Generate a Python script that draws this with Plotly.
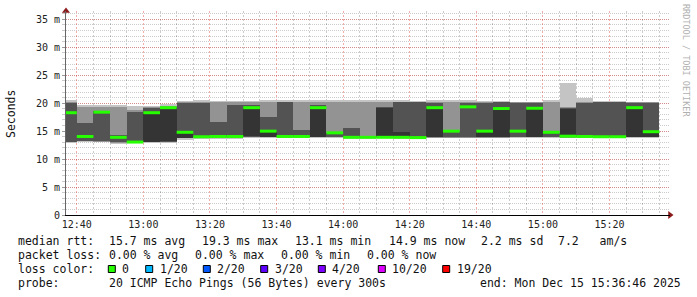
import plotly.graph_objects as go
import pandas as pd

# ---------------- data ----------------
bin_start = "2025-12-15 12:35:00"   # start of first 5-minute bin
bin_minutes = 5
range_start = "2025-12-15 12:36:46"
range_end = "2025-12-15 15:38:10"

median = [18.3, 14.05, 18.4, 13.9, 13.05, 18.3, 19.2, 14.8, 14.0, 14.05,
          14.05, 19.2, 15.0, 14.05, 14.05, 19.2, 14.7, 13.9, 13.9, 13.9,
          13.9, 13.85, 19.2, 15.0, 19.35, 15.0, 19.05, 15.0, 19.1, 14.8,
          14.1, 14.05, 14.0, 14.0, 19.2, 14.9]

ping_min = [12.9, 13.0, 13.0, 12.7, 12.8, 12.8, 12.9, 13.5, 13.6, 13.6,
            13.6, 13.8, 13.7, 13.8, 13.8, 13.8, 13.7, 13.6, 13.6, 13.7,
            13.6, 13.6, 13.7, 13.7, 13.7, 13.7, 13.7, 13.8, 13.8, 13.8,
            13.7, 13.8, 13.8, 13.8, 13.8, 13.8]
ping_max = [20.5, 19.6, 19.6, 19.6, 19.5, 19.5, 19.8, 20.4, 20.5, 20.4,
            20.4, 20.4, 20.5, 20.5, 20.5, 20.5, 20.5, 20.5, 20.5, 20.5,
            20.5, 20.4, 20.5, 20.5, 20.5, 20.4, 20.4, 20.3, 20.3, 20.5,
            23.6, 21.0, 20.4, 20.4, 20.3, 20.3]

mid_lo = [13.1, 13.2, 13.1, 12.9, 12.9, 13.0, 13.0, 13.7, 13.8, 13.8,
          13.8, 14.0, 13.9, 13.9, 13.9, 13.9, 13.9, 13.8, 13.7, 13.8,
          13.8, 13.7, 13.8, 13.8, 13.8, 13.8, 13.8, 13.9, 13.9, 13.9,
          13.8, 13.9, 13.9, 13.9, 13.9, 13.9]
mid_hi = [20.2, 19.3, 19.4, 19.4, 18.7, 19.3, 19.5, 20.2, 20.3, 20.2,
          20.3, 20.3, 20.3, 20.3, 20.3, 20.3, 20.3, 20.3, 20.3, 20.3,
          20.3, 20.3, 20.3, 20.3, 20.3, 20.2, 20.3, 20.2, 20.2, 20.3,
          19.3, 20.3, 20.3, 20.3, 20.2, 20.2]

core_lo = [13.1, 13.3, 13.2, 13.1, 13.0, 13.0, 13.1, 13.8, 13.9, 13.9,
           13.9, 14.0, 14.0, 14.0, 14.0, 14.0, 14.0, 13.9, 13.8, 13.9,
           13.9, 13.8, 13.9, 13.9, 13.9, 13.9, 13.9, 14.0, 14.0, 14.0,
           13.9, 14.0, 14.0, 14.0, 14.0, 14.0]
core_hi = [20.1, 16.5, 18.6, 14.3, 18.5, 19.1, 19.3, 20.0, 20.1, 16.7,
           19.6, 19.6, 17.6, 20.2, 15.2, 19.6, 14.6, 15.5, 14.0, 19.3,
           20.2, 20.2, 20.1, 15.1, 20.0, 20.1, 20.2, 20.1, 20.0, 14.6,
           19.2, 20.1, 20.2, 20.2, 20.0, 20.1]

inner_lo = [None, None, None, None, None, 13.1, 13.2, 13.8, None, None,
            None, 14.1, 14.0, None, None, 14.0, None, None, None, 14.0,
            13.9, None, 14.0, None, None, 14.0, 14.0, None, 14.0, None,
            14.0, None, None, None, 14.0, 14.0]
inner_hi = [None, None, None, None, None, 18.3, 19.1, 14.6, None, None,
            None, 19.1, 14.9, None, None, 19.1, None, None, None, 19.2,
            14.9, None, 19.2, None, None, 15.0, 19.0, None, 19.0, None,
            19.0, None, None, None, 19.2, 15.0]

y_tick_vals = [0, 5, 10, 15, 20, 25, 30, 35]
y_tick_text = ["0", "5 m", "10 m", "15 m", "20 m", "25 m", "30 m", "35 m"]

legend_rtt = [("median rtt:", 16), ("15.7 ms avg", 107), ("19.3 ms max", 200),
              ("13.1 ms min", 292.5), ("14.9 ms now", 386.5), ("2.2 ms sd", 479),
              ("7.2   am/s", 556)]
legend_loss = [("packet loss:", 16), ("0.00 % avg", 107), ("0.00 % max", 193.3),
               ("0.00 % min", 279.3), ("0.00 % now", 365)]
loss_labels = ["0", "1/20", "2/20", "3/20", "4/20", "10/20", "19/20"]
loss_colors = ["#26ff00", "#00b8ff", "#0059ff", "#5e00ff", "#7e00ff", "#dd00ff", "#ff0000"]
loss_swatch_x = [108.3, 145.7, 203.3, 260.7, 318.3, 378.3, 442.7]
probe_text = "20 ICMP Echo Pings (56 Bytes) every 300s"
end_text = "end: Mon Dec 15 15:36:46 2025"

# ---------------- geometry helpers ----------------
W, H = 697, 297
PL, PR, PT, PB = 66, 670, 11, 215


def px(x):
    return (x - PL) / (PR - PL)


def py(y):
    return (PB - y) / (PB - PT)


starts = pd.date_range(bin_start, periods=len(median), freq=f"{bin_minutes}min")
ends = starts + pd.Timedelta(minutes=bin_minutes)
centers = starts + pd.Timedelta(minutes=bin_minutes / 2)
bar_w = bin_minutes * 60 * 1000

fig = go.Figure()


def add_layer(lo, hi, color):
    xs, bases, hs = [], [], []
    for c, a, b in zip(centers, lo, hi):
        if a is None or b is None:
            continue
        xs.append(c)
        bases.append(a)
        hs.append(b - a)
    fig.add_trace(go.Bar(x=xs, y=hs, base=bases, width=bar_w,
                         marker=dict(color=color, line=dict(width=0)),
                         hoverinfo="skip", showlegend=False))


add_layer(ping_min, ping_max, "#c4c4c4")
add_layer(mid_lo, mid_hi, "#939393")
add_layer(core_lo, core_hi, "#535353")
add_layer(inner_lo, inner_hi, "#343434")

# median segments
mx, my = [], []
for s, e, m in zip(starts, ends, median):
    mx += [s, e, None]
    my += [m, m, None]
fig.add_trace(go.Scatter(x=mx, y=my, mode="lines",
                         line=dict(color="#26ff00", width=3),
                         hoverinfo="skip", showlegend=False))

# axis arrows
fig.add_trace(go.Scatter(x=[range_start], y=[36.5], mode="markers",
                         marker=dict(symbol="triangle-up", size=7, color="#8b1a1a"),
                         cliponaxis=False, hoverinfo="skip", showlegend=False))
fig.add_trace(go.Scatter(x=[range_end], y=[0], mode="markers",
                         marker=dict(symbol="triangle-right", size=7, color="#8b1a1a"),
                         cliponaxis=False, hoverinfo="skip", showlegend=False))

mono = "DejaVu Sans Mono"
minor_grid = "rgba(0,0,0,0.2)"
major_grid = "rgba(225,40,40,0.38)"

fig.update_layout(
    width=W, height=H,
    margin=dict(l=PL, r=W - PR, t=PT, b=H - PB),
    paper_bgcolor="white", plot_bgcolor="white",
    barmode="overlay", bargap=0,
    showlegend=False,
    font=dict(family=mono, size=10, color="#222"),
    xaxis=dict(
        type="date", range=[range_start, range_end],
        tick0="2025-12-15 12:40:00", dtick=20 * 60 * 1000,
        tickformat="%H:%M", ticks="",
        showgrid=True, gridcolor=major_grid, griddash="2px,2px", gridwidth=1,
        minor=dict(dtick=5 * 60 * 1000, tick0="2025-12-15 12:40:00",
                   showgrid=True, gridcolor=minor_grid, griddash="2px,2px", gridwidth=1),
        showline=True, linecolor="#000", linewidth=1,
        zeroline=False, layer="above traces",
        tickfont=dict(family=mono, size=10, color="#222"),
        fixedrange=True,
    ),
    yaxis=dict(
        range=[0, 36.5],
        tickvals=y_tick_vals, ticktext=y_tick_text,
        ticks="outside", ticklen=3, tickcolor="rgba(0,0,0,0.25)",
        showgrid=True, gridcolor=major_grid, griddash="1px,1px", gridwidth=1,
        minor=dict(dtick=1, tick0=0, showgrid=True, gridcolor=minor_grid,
                   griddash="1px,1px", gridwidth=1, ticks="outside", ticklen=3,
                   tickcolor="rgba(0,0,0,0.2)"),
        showline=True, linecolor="#666", linewidth=1,
        zeroline=False, layer="above traces",
        tickfont=dict(family=mono, size=10, color="#222"),
        fixedrange=True,
    ),
)

annotations = []


def text_at(t, x, y, size=11.5, color="#111", anchor="left", angle=0):
    annotations.append(dict(text=t, x=px(x), y=py(y), xref="paper", yref="paper",
                            xanchor=anchor, yanchor="middle", showarrow=False,
                            textangle=angle,
                            font=dict(family=mono, size=size, color=color)))


# axis title & watermark
text_at("Seconds", 11, 114, size=11.5, anchor="center", angle=-90)
text_at("RRDTOOL / TOBI OETIKER", 686, 60, size=8.5, color="#b0b0b0", anchor="center", angle=90)

for t, x in legend_rtt:
    text_at(t, x, 241)
for t, x in legend_loss:
    text_at(t, x, 255)
text_at("loss color:", 16, 269)
shapes = []
for lab, col, sx in zip(loss_labels, loss_colors, loss_swatch_x):
    shapes.append(dict(type="rect", xref="paper", yref="paper",
                       x0=px(sx), x1=px(sx + 7), y0=py(272.5), y1=py(265.5),
                       fillcolor=col, line=dict(color="#000", width=1)))
    text_at(lab, sx + 12, 269)
text_at("probe:", 16, 283)
text_at(probe_text, 107, 283)
text_at(end_text, 478.3, 283)

fig.update_layout(annotations=annotations, shapes=shapes)

fig.write_html("out.html")
